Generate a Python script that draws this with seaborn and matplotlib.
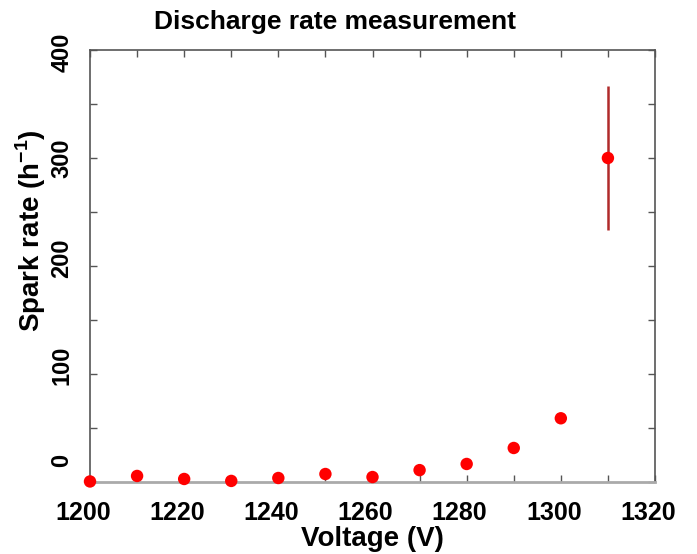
import matplotlib
matplotlib.use("Agg")
import matplotlib.pyplot as plt
import matplotlib.transforms as mtrans
import seaborn as sns
import pandas as pd
from matplotlib.ticker import MultipleLocator

# Data
voltage = [1200, 1210, 1220, 1230, 1240, 1250, 1260, 1270, 1280, 1290, 1300, 1310]
spark_rate = [0.5, 5.6, 2.8, 1.0, 3.7, 7.4, 4.6, 11.0, 16.7, 31.5, 59.0, 300.0]
rate_err = [0, 0, 0, 0, 0, 0, 0, 0, 0, 0, 0, 67.0]

x_ticks_major = [1200, 1220, 1240, 1260, 1280, 1300, 1320]
y_ticks_major = [0, 100, 200, 300, 400]

df = pd.DataFrame({"Voltage": voltage, "Rate": spark_rate, "Err": rate_err})

sns.set_theme(style="white")
plt.rcParams['font.family'] = ['Liberation Sans', 'DejaVu Sans']
plt.rcParams['mathtext.fontset'] = 'custom'
plt.rcParams['mathtext.rm'] = 'Liberation Sans'
plt.rcParams['mathtext.bf'] = 'Liberation Sans:bold'
plt.rcParams['text.color'] = 'black'
plt.rcParams['axes.labelcolor'] = 'black'

fig = plt.figure(figsize=(6.97, 5.54), dpi=100)
ax = fig.add_axes([90/697, 1-482/554, (655-90)/697, (482-50)/554])

ax.errorbar(df["Voltage"], df["Rate"], yerr=df["Err"], fmt="none",
            ecolor="#b02a2a", elinewidth=1.8, capsize=0, zorder=2)
sns.scatterplot(data=df, x="Voltage", y="Rate", ax=ax, color="#ff0000",
                s=80, edgecolor="none", marker="o", zorder=3, clip_on=False)

ax.set_xlim(1200, 1320)
ax.set_ylim(0, 400)
ax.xaxis.set_minor_locator(MultipleLocator(10))
ax.yaxis.set_minor_locator(MultipleLocator(50))
ax.set_xticks(x_ticks_major)
ax.set_yticks(y_ticks_major)

ax.tick_params(which="both", direction="in", length=5, width=1,
               color="#555555", labelcolor="black",
               top=True, right=True, bottom=True, left=True)
ax.tick_params(axis="x", labelsize=18, pad=14)
ax.tick_params(axis="y", labelsize=17, pad=12)
for lab in ax.get_xticklabels() + ax.get_yticklabels():
    lab.set_fontweight("bold")
for lab in ax.get_yticklabels():
    lab.set_rotation(90)
    lab.set_va("center")

# small label offsets as in the reference rendering
xshift = mtrans.ScaledTranslation(-7/100, 0, fig.dpi_scale_trans)
for t in ax.xaxis.get_major_ticks():
    t.label1.set_transform(t.label1.get_transform() + xshift)
y_offsets = [22, 9, 8, 0, -2]
for t, off in zip(ax.yaxis.get_major_ticks(), y_offsets):
    t.label1.set_transform(t.label1.get_transform() +
                           mtrans.ScaledTranslation(0, off/100, fig.dpi_scale_trans))

for side in ["left", "right", "top"]:
    ax.spines[side].set_color("#555555")
    ax.spines[side].set_linewidth(1.2)
ax.spines["bottom"].set_color("#aaaaaa")
ax.spines["bottom"].set_linewidth(2)

ax.set_xlabel("Voltage (V)", fontsize=20, fontweight="bold", labelpad=0.5)
ax.set_ylabel(r"Spark rate (h$^{\mathbf{-1}}$)", fontsize=20, fontweight="bold")
ax.yaxis.set_label_coords(-0.074, 0.583)
ax.set_title("Discharge rate measurement", fontsize=19, fontweight="bold",
             x=0.434, pad=15)

fig.savefig("out.png", dpi=100, facecolor="white")
